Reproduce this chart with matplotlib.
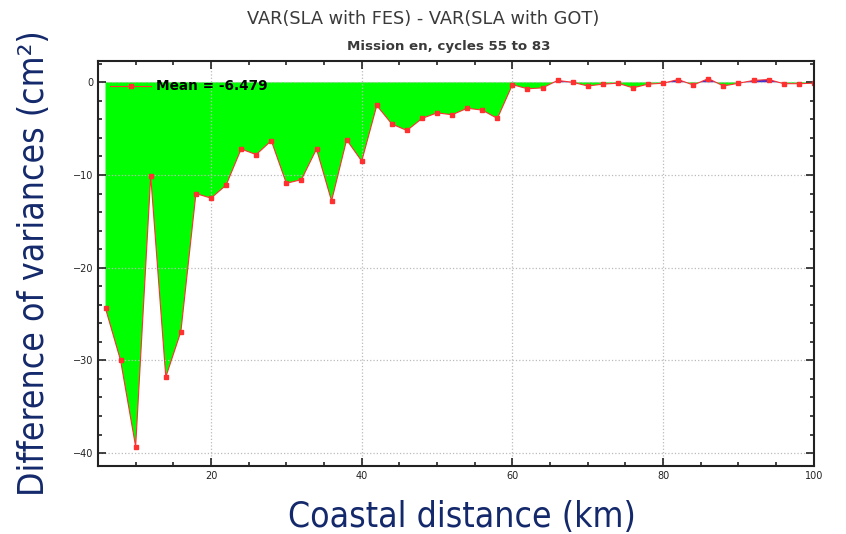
import numpy as np
import matplotlib
matplotlib.use("Agg")
import matplotlib.pyplot as plt
from matplotlib.ticker import MultipleLocator

# distance from coast (km) and variance difference (cm^2)
distance = [6, 8, 10, 12, 14, 16, 18, 20, 22, 24, 26, 28, 30, 32, 34, 36, 38, 40,
            42, 44, 46, 48, 50, 52, 54, 56, 58, 60, 62, 64, 66, 68, 70, 72, 74,
            76, 78, 80, 82, 84, 86, 88, 90, 92, 94, 96, 98, 100]
var_diff = [-24.4, -30.0, -39.3, -10.1, -31.8, -26.9, -12.0, -12.5, -11.1, -7.2,
            -7.8, -6.3, -10.9, -10.5, -7.2, -12.8, -6.2, -8.5, -2.5, -4.5, -5.2,
            -3.9, -3.3, -3.5, -2.8, -3.0, -3.9, -0.25, -0.7, -0.6, 0.2, 0.0,
            -0.4, -0.2, -0.1, -0.6, -0.2, -0.1, 0.3, -0.3, 0.4, -0.4, -0.1,
            0.2, 0.3, -0.15, -0.15, -0.1]
mean_label = "Mean = -6.479"

title = "VAR(SLA with FES) - VAR(SLA with GOT)"
subtitle = "Mission en, cycles 55 to 83"
navy = "#14296b"

x = np.array(distance)
y = np.array(var_diff)

fig = plt.figure(figsize=(8.46, 5.34), dpi=100)
ax = fig.add_axes([0.1158, 0.1273, 0.8462, 0.7585])

ax.fill_between(x, y, 0, where=y <= 0, interpolate=True, color="#00ff00", linewidth=0)
ax.fill_between(x, y, 0, where=y >= 0, interpolate=True, color="#3a2bd8", linewidth=0)
ax.plot(x, y, color="#ff3030", linewidth=0.8, marker="s", markersize=2.2,
        label=mean_label)

ax.set_xlim(5, 100)
ax.set_ylim(-41.4, 2.3)
ax.xaxis.set_major_locator(MultipleLocator(20))
ax.xaxis.set_minor_locator(MultipleLocator(5))
ax.yaxis.set_major_locator(MultipleLocator(10))
ax.yaxis.set_minor_locator(MultipleLocator(2))
ax.tick_params(which="both", direction="in", top=True, right=True, labelsize=7,
               width=1.2, colors="#222222")
ax.tick_params(which="major", length=6)
ax.tick_params(which="minor", length=3)
ax.grid(True, which="major", linestyle=":", color="#bbbbbb", linewidth=0.9)
for sp in ax.spines.values():
    sp.set_linewidth(1.5)
    sp.set_color("#222222")

ax.legend(loc="upper left", frameon=False, handlelength=3, handletextpad=0.4,
          bbox_to_anchor=(0.0, 0.985),
          prop={"weight": "bold", "size": 9.8})

fig.text(0.5, 0.965, title, ha="center", va="center", fontsize=12.8, color="#3a3a3a")
fig.text(0.531, 0.912, subtitle, ha="center", va="center", fontsize=9.6,
         fontweight="bold", color="#3a3a3a")

fig.text(0.546, 0.032, "Coastal distance (km)", ha="center", va="center",
         fontsize=25.5, color=navy, fontstretch="condensed")
fig.text(0.040, 0.507, "Difference of variances (cm²)", ha="center", va="center",
         rotation=90, fontsize=25.5, color=navy, fontstretch="condensed")

fig.savefig("out.png", dpi=100)
